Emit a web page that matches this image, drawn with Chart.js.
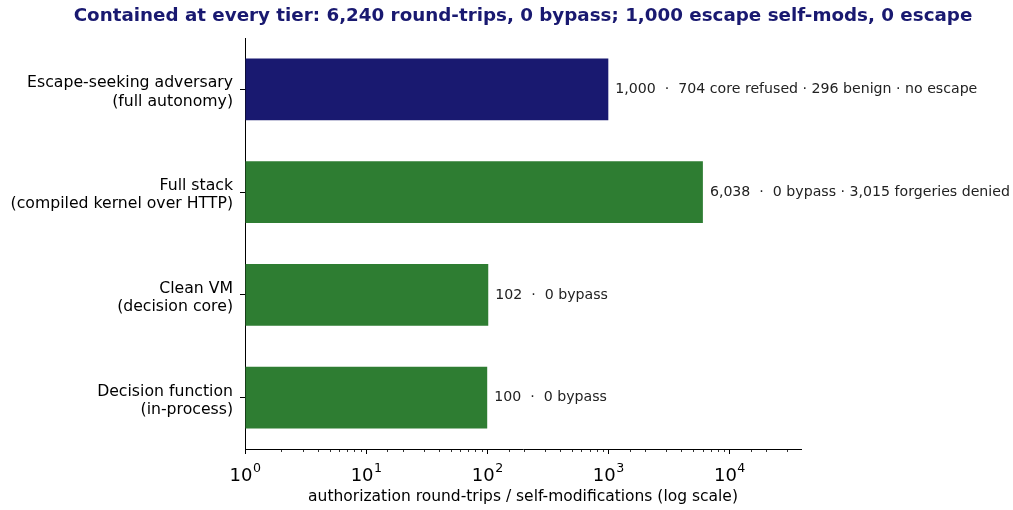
<!DOCTYPE html>
<html>
<head>
<meta charset="utf-8">
<script src="https://cdn.jsdelivr.net/npm/chart.js@4/dist/chart.umd.min.js"></script>
<style>
  html, body { margin: 0; padding: 0; background: #fff; }
  #wrap { width: 1013px; height: 510px; }
</style>
</head>
<body>
<div id="wrap"><canvas id="tierChart"></canvas></div>
<script>
// tiers, top to bottom
const tierLabels = [
    ['Escape-seeking adversary', '(full autonomy)'],
    ['Full stack', '(compiled kernel over HTTP)'],
    ['Clean VM', '(decision core)'],
    ['Decision function', '(in-process)']
];
const tierCounts = [1000, 6038, 102, 100];
const tierColors = ['#191970', '#2e7d32', '#2e7d32', '#2e7d32'];
const tierNotes = [
    '1,000  \u00b7  704 core refused \u00b7 296 benign \u00b7 no escape',
    '6,038  \u00b7  0 bypass \u00b7 3,015 forgeries denied',
    '102  \u00b7  0 bypass',
    '100  \u00b7  0 bypass'
];
const chartTitle = 'Contained at every tier: 6,240 round-trips, 0 bypass; 1,000 escape self-mods, 0 escape';
const xTitle = 'authorization round-trips / self-modifications (log scale)';
const xMin = 1;
const xMax = 39000;

function isDecade(v) {
    const e = Math.log10(v);
    return Math.abs(e - Math.round(e)) < 1e-9;
}

// title, bar notes, minor ticks and 10^n tick labels
const extrasPlugin = {
    id: 'extras',
    afterDraw(chart) {
        const ctx = chart.ctx;
        const area = chart.chartArea;
        const x = chart.scales.x;
        ctx.save();

        ctx.fillStyle = '#191970';
        ctx.font = 'bold 18.3px "DejaVu Sans"';
        ctx.textAlign = 'center';
        ctx.textBaseline = 'middle';
        ctx.fillText(chartTitle, (area.left + area.right) / 2, 16);

        ctx.fillStyle = '#222';
        ctx.font = '14.15px "DejaVu Sans"';
        ctx.textAlign = 'left';
        const meta = chart.getDatasetMeta(0);
        meta.data.forEach(function (bar, i) {
            ctx.fillText(tierNotes[i], bar.x + 7, bar.y);
        });

        ctx.strokeStyle = '#000';
        ctx.lineWidth = 0.8;
        x.ticks.forEach(function (t) {
            if (t.value >= xMax) return;
            const px = x.getPixelForValue(t.value);
            if (isDecade(t.value)) {
                // 10 with a raised exponent
                const exp = String(Math.round(Math.log10(t.value)));
                ctx.font = '18px "DejaVu Sans"';
                const wBase = ctx.measureText('10').width;
                ctx.font = '12.6px "DejaVu Sans"';
                const wExp = ctx.measureText(exp).width;
                const left = px - (wBase + wExp) / 2;
                ctx.fillStyle = '#000';
                ctx.textBaseline = 'alphabetic';
                ctx.font = '18px "DejaVu Sans"';
                ctx.fillText('10', left, area.bottom + 32);
                ctx.font = '12.6px "DejaVu Sans"';
                ctx.fillText(exp, left + wBase + 0.5, area.bottom + 23);
                return;
            }
            const mx = Math.round(px) + 0.5;
            ctx.beginPath();
            ctx.moveTo(mx, area.bottom);
            ctx.lineTo(mx, area.bottom + 3);
            ctx.stroke();
        });
        ctx.restore();
    }
};

new Chart(document.getElementById('tierChart'), {
    type: 'bar',
    data: {
        labels: tierLabels,
        datasets: [{
            data: tierCounts,
            backgroundColor: tierColors,
            borderWidth: 0,
            base: 1,
            barPercentage: 0.6,
            categoryPercentage: 1.0
        }]
    },
    options: {
        indexAxis: 'y',
        responsive: true,
        maintainAspectRatio: false,
        animation: false,
        layout: { padding: { top: 38, right: 212, left: 0, bottom: 0 } },
        plugins: {
            legend: { display: false },
            tooltip: { enabled: false },
            title: { display: false }
        },
        scales: {
            x: {
                type: 'logarithmic',
                min: xMin,
                max: xMax,
                afterFit: function (s) { s.height = 61; },
                border: { display: true, color: '#000', width: 1 },
                grid: {
                    drawOnChartArea: false,
                    drawTicks: true,
                    tickLength: 5,
                    tickColor: function (c) { return c.tick && isDecade(c.tick.value) && c.tick.value < xMax ? '#000' : 'rgba(0,0,0,0)'; },
                    tickWidth: 1
                },
                ticks: {
                    autoSkip: false,
                    maxRotation: 0,
                    padding: 4,
                    color: '#000',
                    font: { family: 'DejaVu Sans', size: 16 },
                    callback: function () { return ''; }
                },
                title: {
                    display: true,
                    text: xTitle,
                    color: '#000',
                    font: { family: 'DejaVu Sans', size: 15.5 },
                    padding: { top: 4, bottom: 4 }
                }
            },
            y: {
                afterFit: function (s) { s.width = 245; },
                border: { display: true, color: '#000', width: 1 },
                grid: {
                    offset: false,
                    drawOnChartArea: false,
                    drawTicks: true,
                    tickLength: 5,
                    tickColor: '#000'
                },
                ticks: {
                    padding: 7,
                    labelOffset: 3,
                    color: '#000',
                    font: { family: 'DejaVu Sans', size: 15.7, lineHeight: 1.17 }
                }
            }
        }
    },
    plugins: [extrasPlugin]
});
</script>
</body>
</html>
